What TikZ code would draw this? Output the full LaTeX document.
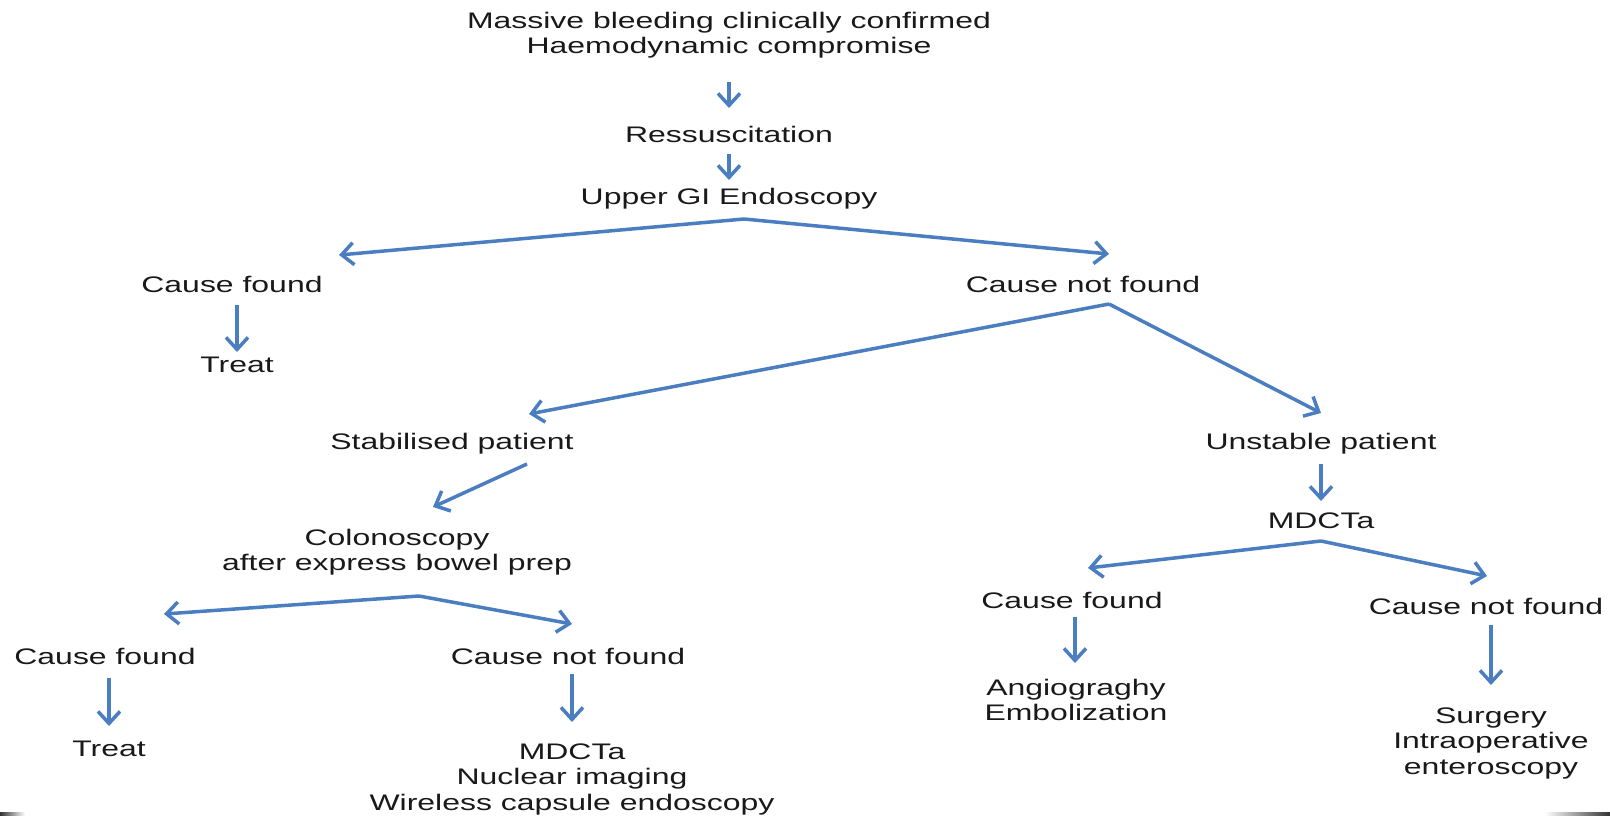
\documentclass[tikz,border=0pt]{standalone}
\usepackage{fontspec}
\setmainfont[FakeStretch=1.42]{Liberation Sans}
\usetikzlibrary{arrows.meta}
\definecolor{arrblue}{RGB}{74,126,193}
\definecolor{txt}{RGB}{25,25,25}
\begin{document}
\begin{tikzpicture}[x=1pt,y=-1pt,
  lbl/.style={inner sep=0pt,align=center,text=txt,font=\fontsize{22.5}{25.5}\selectfont},
  arr/.style={draw=arrblue,line width=3.5pt,-{Straight Barb[length=12pt,width=22pt,line width=3.5pt]}}]
\useasboundingbox (0,0) rectangle (1610,815);
% nodes
\node[lbl] (mb) at (729,35) {Massive bleeding clinically confirmed\\Haemodynamic compromise};
\node[lbl] (res) at (729,134) {Ressuscitation};
\node[lbl] (ugi) at (729,199) {Upper GI Endoscopy};
\node[lbl] (cf1) at (232,284) {Cause found};
\node[lbl] (cnf1) at (1083,284) {Cause not found};
\node[lbl] (tr1) at (237,365) {Treat};
\node[lbl] (stab) at (452,444) {Stabilised patient};
\node[lbl] (unst) at (1321,444) {Unstable patient};
\node[lbl] (colo) at (397,552) {Colonoscopy\\after express bowel prep};
\node[lbl] (mdcta1) at (1321,521) {MDCTa};
\node[lbl] (cf3) at (1072,600) {Cause found};
\node[lbl] (cnf3) at (1486,606) {Cause not found};
\node[lbl] (angio) at (1076,700) {Angiograghy\\Embolization};
\node[lbl] (surg) at (1491,743) {Surgery\\Intraoperative\\enteroscopy};
\node[lbl] (cf2) at (105,656) {Cause found};
\node[lbl] (cnf2) at (568,656) {Cause not found};
\node[lbl] (tr2) at (109,749) {Treat};
\node[lbl] (mdcta2) at (572,779) {MDCTa\\Nuclear imaging\\Wireless capsule endoscopy};
% connector points
\coordinate (mbS) at (729,82);   \coordinate (resN) at (729,108);
\coordinate (resS) at (729,154); \coordinate (ugiN) at (729,180);
\coordinate (ugiB) at (744,219);
\coordinate (cf1T) at (339,255); \coordinate (cnf1T) at (1109,254);
\coordinate (cf1S) at (237,305); \coordinate (tr1N) at (237,352);
\coordinate (cnf1B) at (1109,304);
\coordinate (stabT) at (529,414); \coordinate (unstT) at (1321,413);
\coordinate (stabS) at (527,464); \coordinate (coloT) at (433,507);
\coordinate (unstS) at (1321,464); \coordinate (mdN) at (1321,501);
\coordinate (mdB) at (1321,541);
\coordinate (cf3T) at (1088,568); \coordinate (cnf3T) at (1487,576);
\coordinate (cf3S) at (1075,617); \coordinate (angioN) at (1075,663);
\coordinate (cnf3S) at (1491,625); \coordinate (surgN) at (1491,685);
\coordinate (coloB) at (419,596);
\coordinate (cf2T) at (164,614); \coordinate (cnf2T) at (572,624);
\coordinate (cf2S) at (109,678); \coordinate (tr2N) at (109,726);
\coordinate (cnf2S) at (572,674); \coordinate (md2N) at (572,722);
% connectors
\draw[arr] (mbS) -- (resN);
\draw[arr] (resS) -- (ugiN);
\draw[arr] (ugiB) -- (cf1T);
\draw[arr] (ugiB) -- (cnf1T);
\draw[arr] (cf1S) -- (tr1N);
\draw[arr] (cnf1B) -- (stabT);
\draw[arr] (cnf1B) -- (unstT);
\draw[arr] (stabS) -- (coloT);
\draw[arr] (unstS) -- (mdN);
\draw[arr] (mdB) -- (cf3T);
\draw[arr] (mdB) -- (cnf3T);
\draw[arr] (cf3S) -- (angioN);
\draw[arr] (cnf3S) -- (surgN);
\draw[arr] (coloB) -- (cf2T);
\draw[arr] (coloB) -- (cnf2T);
\draw[arr] (cf2S) -- (tr2N);
\draw[arr] (cnf2S) -- (md2N);
% page-edge artefacts
\shade[left color=black!80,right color=white] (0,812) rectangle (25,815);
\shade[left color=white,right color=black!80] (1545,812.5) rectangle (1610,815);
\end{tikzpicture}
\end{document}
